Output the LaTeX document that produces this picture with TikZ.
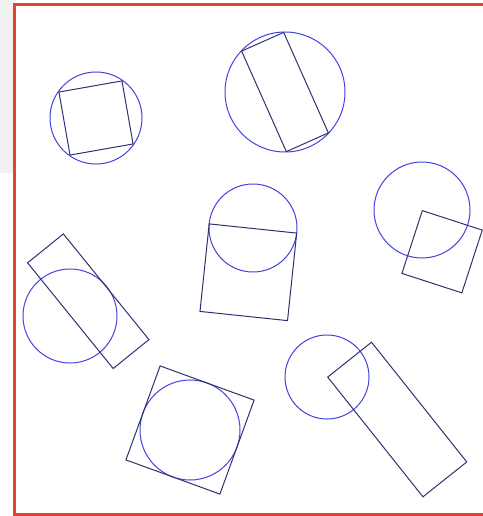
\documentclass[tikz,border=0pt]{standalone}
\usepackage{tikz}
\definecolor{ringblue}{RGB}{66,66,222}
\definecolor{blkblue}{RGB}{48,48,112}
\definecolor{framered}{RGB}{228,66,44}
\definecolor{sidegray}{RGB}{241,241,241}
\begin{document}
\begin{tikzpicture}[x=1pt,y=-1pt,
  ring/.style={circle,draw=ringblue,line width=1pt,inner sep=0pt,minimum size=#1},
  blk/.style n args={3}{rectangle,draw=blkblue,line width=1pt,inner sep=0pt,minimum width=#1,minimum height=#2,rotate=#3}]
\useasboundingbox (0,0) rectangle (482,516);
\fill[sidegray] (0,0) rectangle (14,173);
\draw[framered,line width=2.5pt] (14.5,4.5) rectangle (495,514.5);
% circles, each with its box
\node[ring=92] (ringA) at (96,118) {};
\node[blk={64}{64}{10}] (blkA) at (ringA.center) {};
\node[ring=120] (ringB) at (285,92) {};
\node[blk={110}{46}{-66}] (blkB) at (ringB.center) {};
\node[ring=88] (ringC) at (253,228) {};
\node[blk={88}{88}{-6},anchor=north] (blkC) at (ringC.center) {};
\node[ring=96] (ringD) at (422,210) {};
\node[blk={63}{66}{-18},anchor=north west] (blkD) at (ringD.center) {};
\node[ring=94] (ringE) at (70,316) {};
\node[blk={136}{46}{-51},anchor=south] (blkE) at (ringE.center) {};
\node[ring=100] (ringF) at (190,430) {};
\node[blk={100}{100}{-20}] (blkF) at (ringF.center) {};
\node[ring=84] (ringG) at (327,377) {};
\node[blk={153}{56}{-51.5},anchor=south west] (blkG) at (ringG.center) {};
\end{tikzpicture}
\end{document}
